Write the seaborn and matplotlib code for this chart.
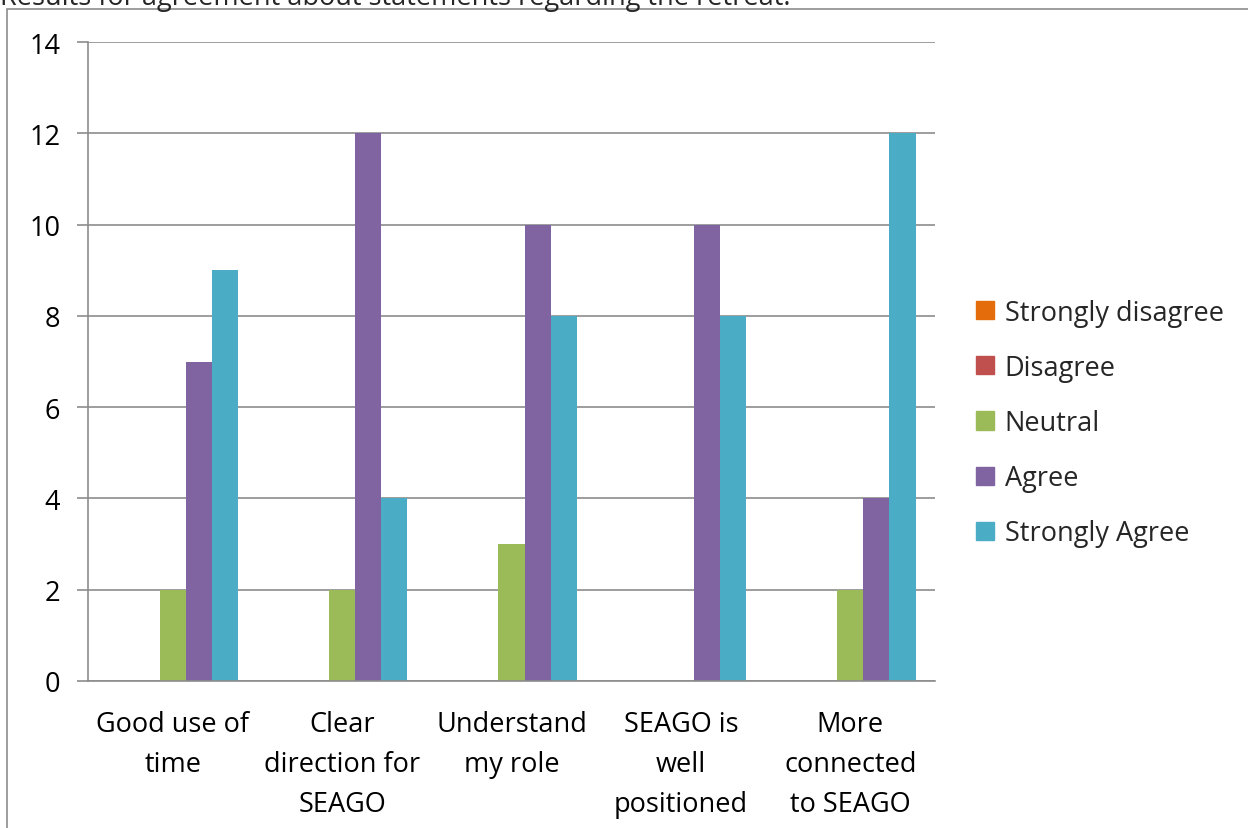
import numpy as np
import pandas as pd
import seaborn as sns
import matplotlib.pyplot as plt
from matplotlib.patches import Rectangle

statements = ["Good use of\ntime", "Clear\ndirection for\nSEAGO", "Understand\nmy role",
              "SEAGO is\nwell\npositioned", "More\nconnected\nto SEAGO"]
levels = ["Strongly disagree", "Disagree", "Neutral", "Agree", "Strongly Agree"]
strongly_disagree = [0, 0, 0, 0, 0]
disagree = [0, 0, 0, 0, 0]
neutral = [2, 2, 3, 0, 2]
agree = [7, 12, 10, 10, 4]
strongly_agree = [9, 4, 8, 8, 12]
colors = ["#E46C0A", "#C0504D", "#9BBB59", "#8064A2", "#4BACC6"]

rows = []
for lvl, vals in zip(levels, [strongly_disagree, disagree, neutral, agree, strongly_agree]):
    for s, v in zip(statements, vals):
        rows.append({"statement": s, "level": lvl, "count": v})
df = pd.DataFrame(rows)

sns.set_theme(style="white")
plt.rcParams['font.family'] = ['Open Sans', 'DejaVu Sans']

fig = plt.figure(figsize=(12.48, 8.29), dpi=100)
ax = fig.add_axes([88/1248, 1-682/829, (935-88)/1248, (682-43)/829])

sns.barplot(data=df, x="statement", y="count", hue="level", hue_order=levels,
            order=statements, palette=colors, width=0.77, saturation=1,
            linewidth=0, ax=ax, legend=False)

ax.set_ylim(0, 14)
ax.set_xlim(-0.5, 4.5)
ax.set_yticks(range(0, 15, 2))
ax.yaxis.grid(True, color="#8c8c8c", linewidth=1.2)
ax.set_axisbelow(True)
ax.set_xlabel("")
ax.set_ylabel("")
for side in ["top", "right"]:
    ax.spines[side].set_visible(False)
for side in ["left", "bottom"]:
    ax.spines[side].set_color("#8c8c8c")
    ax.spines[side].set_linewidth(1.2)

ax.set_xticks(np.arange(-0.5, 5, 1), minor=True)
ax.tick_params(axis="x", which="major", length=0, pad=21, labelsize=19.5)
ax.tick_params(axis="x", which="minor", length=7, width=1.2, color="#8c8c8c", direction="out")
ax.tick_params(axis="y", length=8, width=1.2, color="#8c8c8c", direction="out",
               left=True, pad=12, labelsize=19.5)
for lab in ax.get_xticklabels():
    lab.set_linespacing(1.56)
    lab.set_color("black")
for lab in ax.get_yticklabels():
    lab.set_color("black")

handles = [Rectangle((0, 0), 1, 1, color=c) for c in colors]
fig.legend(handles, levels, loc="center left", bbox_to_anchor=(952/1248, 1-424/829),
           frameon=False, fontsize=19.5, handlelength=0.65, handleheight=0.65,
           labelspacing=1.0, handletextpad=0.4)

# outer frame of the chart area
fig.patches.append(Rectangle((7/1248, -0.01), 1.0, 1-10/829+0.01, transform=fig.transFigure,
                             fill=False, edgecolor="#8c8c8c", linewidth=1.2))

fig.text(0.0, 1-5/829, "Results for agreement about statements regarding the retreat.",
         fontsize=19.5, va="baseline", ha="left")

fig.savefig("out.png", dpi=100)
